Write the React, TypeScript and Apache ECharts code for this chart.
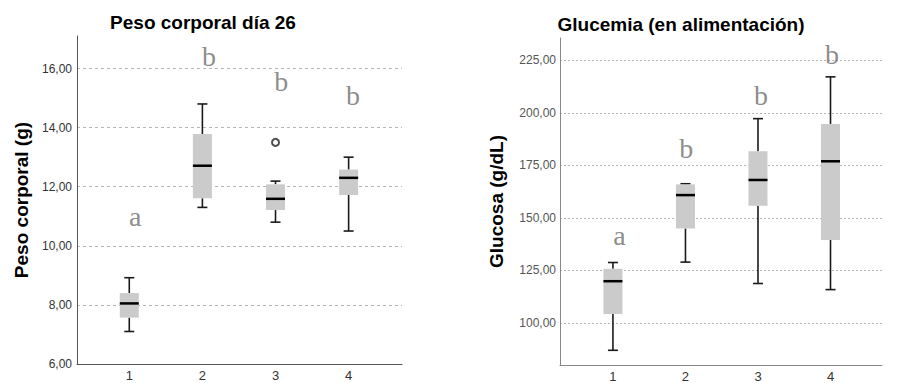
import React, { useEffect, useRef } from "react";
import * as echarts from "echarts";

const categories = [1, 2, 3, 4];

const pesoMin = [7.1, 11.3, 10.8, 10.5];
const pesoQ1 = [7.57, 11.61, 11.21, 11.72];
const pesoMedian = [8.05, 12.71, 11.59, 12.3];
const pesoQ3 = [8.4, 13.78, 12.08, 12.58];
const pesoMax = [8.92, 14.8, 12.19, 13.0];
const pesoOutliers = [[3, 13.5]];
const pesoLetters = ["a", "b", "b", "b"];
const pesoLetterX = [1.08, 2.09, 3.08, 4.06];
const pesoLetterY = [10.98, 16.39, 15.55, 15.1];
const pesoTicks = [6, 8, 10, 12, 14, 16];

const gluMin = [87.0, 129.0, 118.8, 115.9];
const gluQ1 = [104.3, 145.0, 155.8, 139.5];
const gluMedian = [119.9, 160.9, 168.1, 177.0];
const gluQ3 = [125.8, 166.0, 181.8, 194.8];
const gluMax = [128.8, 166.3, 197.3, 217.2];
const gluLetters = ["a", "b", "b", "b"];
const gluLetterX = [1.09, 2.01, 3.04, 4.02];
const gluLetterY = [141.8, 183.2, 208.2, 227.7];
const gluTicks = [100, 125, 150, 175, 200, 225];

const fmt = (v: number) => v.toFixed(2).replace(".", ",");

function boxRender(params: any, api: any) {
  const x = api.value(0);
  const [cx, yMin] = api.coord([x, api.value(1)]);
  const yQ1 = api.coord([x, api.value(2)])[1];
  const yMed = api.coord([x, api.value(3)])[1];
  const yQ3 = api.coord([x, api.value(4)])[1];
  const yMax = api.coord([x, api.value(5)])[1];
  const bw = 19;
  const cw = 10;
  const ws = { stroke: "#1a1a1a", lineWidth: 1.6 };
  return {
    type: "group",
    children: [
      { type: "line", shape: { x1: cx, y1: yMax, x2: cx, y2: yQ3 }, style: ws },
      { type: "line", shape: { x1: cx, y1: yQ1, x2: cx, y2: yMin }, style: ws },
      { type: "line", shape: { x1: cx - cw / 2, y1: yMax, x2: cx + cw / 2, y2: yMax }, style: ws },
      { type: "line", shape: { x1: cx - cw / 2, y1: yMin, x2: cx + cw / 2, y2: yMin }, style: ws },
      { type: "rect", shape: { x: cx - bw / 2, y: yQ3, width: bw, height: yQ1 - yQ3 }, style: { fill: "#cbcbcb" } },
      { type: "line", shape: { x1: cx - bw / 2, y1: yMed, x2: cx + bw / 2, y2: yMed }, style: { stroke: "#000", lineWidth: 2.5 } },
    ],
  };
}

function boxData(mins: number[], q1: number[], med: number[], q3: number[], max: number[]) {
  return categories.map((c, i) => [c, mins[i], q1[i], med[i], q3[i], max[i]]);
}

function letterData(xs: number[], ys: number[], letters: string[]) {
  return letters.map((l, i) => ({ value: [xs[i], ys[i]], name: l }));
}

export default function App() {
  const ref = useRef<HTMLDivElement>(null);
  useEffect(() => {
    if (!ref.current) return;
    const chart = echarts.init(ref.current, undefined, { renderer: "svg" });
    const sans = "'Liberation Sans', Arial, sans-serif";
    const serif = "'Liberation Serif', 'Times New Roman', serif";
    const xAxisCommon = (min: number, max: number, gridIndex: number, color: string) => ({
      type: "value",
      gridIndex,
      min,
      max,
      axisLine: { show: true, onZero: false, lineStyle: { color, width: 1 } },
      axisTick: { show: false, customValues: categories },
      splitLine: { show: false },
      axisLabel: {
        customValues: categories,
        formatter: (v: number) => String(v),
        color: "#333",
        fontSize: 13,
        fontFamily: sans,
        margin: 5,
      },
    });
    const yAxisCommon = (
      min: number,
      max: number,
      ticks: number[],
      gridIndex: number,
      name: string,
      nameGap: number,
      axisColor: string,
      labelColor: string,
      dash: number[],
      margin: number
    ) => ({
      type: "value",
      gridIndex,
      min,
      max,
      name,
      nameLocation: "middle",
      nameRotate: 90,
      nameGap,
      nameTextStyle: { fontFamily: sans, fontWeight: "bold", fontSize: 19, color: "#000" },
      axisLine: { show: true, lineStyle: { color: axisColor, width: 1 } },
      axisTick: { show: false, customValues: ticks },
      axisLabel: {
        customValues: ticks,
        formatter: fmt,
        color: labelColor,
        fontSize: 12,
        fontFamily: sans,
        margin,
      },
      splitLine: { show: true, lineStyle: { color: "#b5b5b5", type: dash, width: 1 } },
    });
    const letterLabel = {
      show: true,
      position: "inside",
      formatter: (p: any) => p.name,
      fontFamily: serif,
      fontSize: 28,
      color: "#6e6e6e",
    };
    chart.setOption({
      animation: false,
      grid: [
        { left: 77, top: 36, width: 325, height: 328, outerBoundsMode: "none", containLabel: false },
        { left: 560, top: 38, width: 322, height: 327, outerBoundsMode: "none", containLabel: false },
      ],
      graphic: [
        {
          type: "text",
          x: 203,
          y: 22,
          style: {
            text: "Peso corporal día 26",
            font: "bold 19px 'Liberation Sans', Arial, sans-serif",
            fill: "#000",
            textAlign: "center",
            textVerticalAlign: "middle",
          },
        },
        {
          type: "text",
          x: 681,
          y: 24,
          style: {
            text: "Glucemia (en alimentación)",
            font: "bold 19px 'Liberation Sans', Arial, sans-serif",
            fill: "#000",
            textAlign: "center",
            textVerticalAlign: "middle",
          },
        },
      ],
      xAxis: [xAxisCommon(0.285, 4.73, 0, "#555"), xAxisCommon(0.27, 4.71, 1, "#888")],
      yAxis: [
        yAxisCommon(6, 17.1, pesoTicks, 0, "Peso corporal (g)", 46, "#555", "#333", [3, 3], 5),
        yAxisCommon(80, 235.7, gluTicks, 1, "Glucosa (g/dL)", 54, "#888", "#555", [2, 2], 4),
      ],
      series: [
        {
          type: "custom",
          xAxisIndex: 0,
          yAxisIndex: 0,
          renderItem: boxRender,
          encode: { x: 0, y: [1, 2, 3, 4, 5] },
          data: boxData(pesoMin, pesoQ1, pesoMedian, pesoQ3, pesoMax),
        },
        {
          type: "scatter",
          xAxisIndex: 0,
          yAxisIndex: 0,
          symbol: "emptyCircle",
          symbolSize: 7,
          itemStyle: { color: "#222", borderColor: "#222", borderWidth: 1 },
          data: pesoOutliers,
          z: 5,
        },
        {
          type: "scatter",
          xAxisIndex: 0,
          yAxisIndex: 0,
          symbolSize: 0,
          label: letterLabel,
          data: letterData(pesoLetterX, pesoLetterY, pesoLetters),
        },
        {
          type: "custom",
          xAxisIndex: 1,
          yAxisIndex: 1,
          renderItem: boxRender,
          encode: { x: 0, y: [1, 2, 3, 4, 5] },
          data: boxData(gluMin, gluQ1, gluMedian, gluQ3, gluMax),
        },
        {
          type: "scatter",
          xAxisIndex: 1,
          yAxisIndex: 1,
          symbolSize: 0,
          label: letterLabel,
          data: letterData(gluLetterX, gluLetterY, gluLetters),
        },
      ],
    });
    return () => chart.dispose();
  }, []);
  return (
    <div
      ref={ref}
      style={{ position: "absolute", left: 0, top: 0, width: 901, height: 383, background: "#fff" }}
    />
  );
}
